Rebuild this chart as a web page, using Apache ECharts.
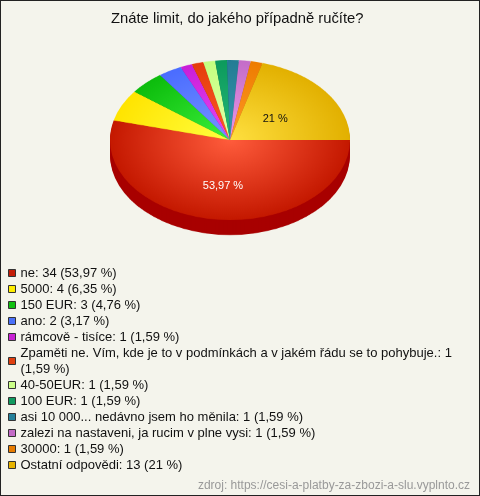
<!DOCTYPE html>
<html><head><meta charset="utf-8">
<script src="https://cdn.jsdelivr.net/npm/echarts@6/dist/echarts.min.js"></script>
<style>
html,body{margin:0;padding:0;background:#f4f4ec;}
#frame{position:relative;width:480px;height:496px;overflow:hidden;background:#f4f4ec;}
#pie{position:absolute;left:0;top:0;width:480px;height:300px;transform:scaleY(0.6667);transform-origin:0 140px;}
#main{position:absolute;left:0;top:0;width:480px;height:496px;}
#border{position:absolute;left:0;top:0;width:480px;height:496px;box-sizing:border-box;border:1px solid #222;pointer-events:none;}
</style></head><body>
<div id="frame"><div id="pie"></div><div id="main"></div><div id="border"></div></div>
<script>
// ---- data ----
const titleText = 'Znáte limit, do jakého případně ručíte?';
const sourceText = 'zdroj: https://cesi-a-platby-za-zbozi-a-slu.vyplnto.cz';
const names = [
  'ne', '5000', '150 EUR', 'ano', 'rámcově - tisíce',
  'Zpaměti ne. Vím, kde je to v podmínkách a v jakém řádu se to pohybuje.',
  '40-50EUR', '100 EUR', 'asi 10 000... nedávno jsem ho měnila',
  'zalezi na nastaveni, ja rucim v plne vysi', '30000', 'Ostatní odpovědi'
];
const values = [34, 4, 3, 2, 1, 1, 1, 1, 1, 1, 1, 13];
const pctLabels = ['53,97', '6,35', '4,76', '3,17', '1,59', '1,59', '1,59', '1,59', '1,59', '1,59', '1,59', '21'];
const sliceLabelIdx = [0, 11];

// ---- styles ----
const lightColors = ['#ff5c3c','#ffff40','#3cf03c','#7894ff','#e848f4','#ff5a28','#e4ffa8','#26b878','#3898b0','#e898e8','#ff9a28','#ffe040'];
const darkColors  = ['#c41800','#ffe400','#0cbc0c','#4a6cff','#c81ed8','#e43c0c','#c4ff80','#0c9a5c','#247c94','#c46cc8','#ee7c00','#e2b000'];
const sideColors  = ['#a80000','#c8b000','#089008','#3050c0','#9010a0','#b02800','#90c060','#087040','#185a70','#904c90','#b05800','#b08800'];
const legendColors= ['#c41e08','#ffee00','#10c010','#4a70f8','#c822d4','#e04010','#ccff88','#109a60','#24809a','#c46cc8','#e87c00','#e8b400'];

function seriesData(colorFn) {
  return names.map((n, i) => ({ name: n, value: values[i], itemStyle: { color: colorFn(i) } }));
}

const pieChart = echarts.init(document.getElementById('pie'), null, { renderer: 'canvas' });
const cx = 230, cy = 140, R = 120;
const depthOffsets = [22.5, 20, 17, 14, 11, 8, 5, 2.5];
const pieSeries = [];
depthOffsets.forEach(off => {
  pieSeries.push({
    type: 'pie', center: [cx, cy + off], radius: R, startAngle: 0, clockwise: true,
    silent: true, animation: false, label: { show: false }, labelLine: { show: false },
    emphasis: { disabled: true },
    itemStyle: { borderWidth: 0 },
    data: seriesData(i => sideColors[i])
  });
});
pieSeries.push({
  type: 'pie', center: [cx, cy], radius: R, startAngle: 0, clockwise: true,
  silent: true, animation: false, label: { show: false }, labelLine: { show: false },
  emphasis: { disabled: true },
  itemStyle: { borderWidth: 0 },
  data: seriesData(i => ({
    type: 'radial', x: cx, y: cy, r: R, global: true,
    colorStops: [{ offset: 0, color: lightColors[i] }, { offset: 1, color: darkColors[i] }]
  }))
});
pieChart.setOption({ animation: false, series: pieSeries });

const chart = echarts.init(document.getElementById('main'), null, { renderer: 'canvas' });
const font = 'Liberation Sans, Arial, sans-serif';
const maxLegendLine = 80; // characters per legend line before the percentage wraps
chart.setOption({
  animation: false,
  title: [
    { text: titleText, left: 111, top: 11, padding: 0,
      textStyle: { fontSize: 14.8, fontWeight: 'normal', color: '#111', fontFamily: font } },
    { text: sourceText, right: 10, top: 480, padding: 0,
      textStyle: { fontSize: 12, fontWeight: 'normal', color: '#999', fontFamily: font } }
  ],
  legend: {
    orient: 'vertical', left: 8, top: 265, padding: 0, itemGap: 0,
    itemWidth: 7, itemHeight: 7, icon: 'rect', selectedMode: false,
    itemStyle: { borderColor: '#333', borderWidth: 1 },
    textStyle: { fontSize: 13, lineHeight: 16, color: '#111', fontFamily: font, overflow: 'none' },
    formatter: function (name) {
      const i = names.indexOf(name);
      const head = name + ': ' + values[i];
      const tail = '(' + pctLabels[i] + ' %)';
      return (head.length + tail.length + 1 > maxLegendLine) ? head + '\n' + tail : head + ' ' + tail;
    },
    data: names.map((n, i) => ({ name: n, itemStyle: { color: legendColors[i] } }))
  },
  series: [{
    type: 'pie', center: [cx, cy], radius: R, startAngle: 0, clockwise: true,
    silent: true, animation: false,
    itemStyle: { color: 'rgba(0,0,0,0)', borderWidth: 0 },
    label: { show: false, position: 'inside', fontSize: 11, fontFamily: font,
      formatter: p => pctLabels[p.dataIndex] + ' %' },
    labelLine: { show: false },
    emphasis: { disabled: true },
    labelLayout: function (p) {
      const r = p.labelRect;
      const mx = r.x + r.width / 2, my = r.y + r.height / 2;
      return { x: cx + (mx - cx) * 0.9, y: cy + (my - cy) * 2 / 3 + 4 };
    },
    data: names.map((n, i) => ({
      name: n, value: values[i],
      label: { show: sliceLabelIdx.indexOf(i) >= 0, color: i === 0 ? '#fff' : '#111' }
    }))
  }]
});
</script>
</body></html>
